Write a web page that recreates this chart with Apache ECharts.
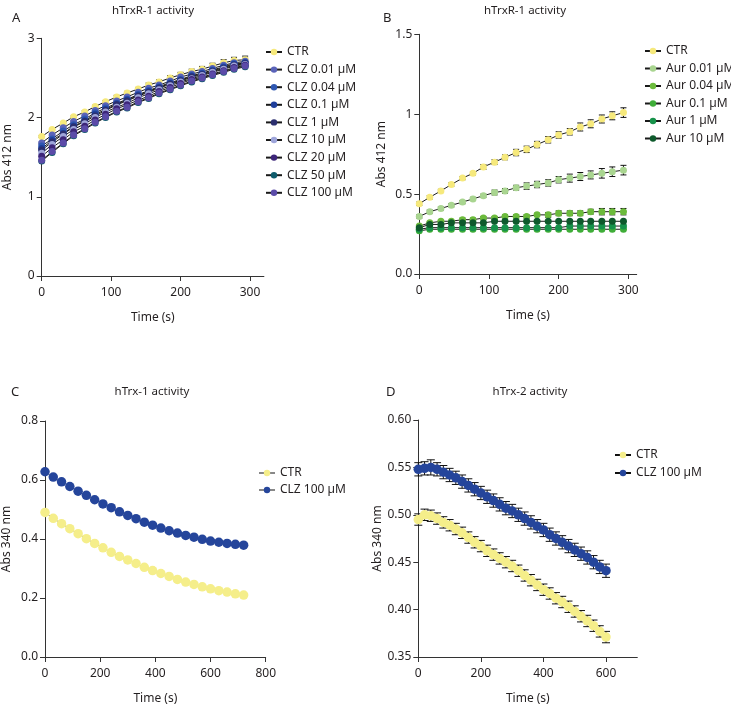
<!DOCTYPE html>
<html><head><meta charset="utf-8">
<script src="https://cdn.jsdelivr.net/npm/echarts@6/dist/echarts.min.js"></script>
<style>html,body{margin:0;padding:0;background:#fff}#c{width:731px;height:706px}</style>
</head><body><div id="c"></div>
<script>
// ---------- DATA ----------
// Panels A & B time points (s)
const tAB = [0,15,31,46,62,77,92,108,123,139,154,169,185,200,216,231,246,262,277,293];
// Panel A: hTrxR-1 + CLZ
const aNames = ['CTR','CLZ 0.01 µM','CLZ 0.04 µM','CLZ 0.1 µM','CLZ 1 µM','CLZ 10 µM','CLZ 20 µM','CLZ 50 µM','CLZ 100 µM'];
const aCTR   = [1.76,1.85,1.93,2.01,2.07,2.14,2.20,2.26,2.31,2.36,2.41,2.45,2.50,2.54,2.58,2.61,2.65,2.69,2.72,2.73];
const aC001  = [1.68,1.78,1.87,1.95,2.02,2.09,2.15,2.21,2.26,2.32,2.37,2.41,2.46,2.51,2.55,2.58,2.62,2.66,2.69,2.71];
const aC004  = [1.64,1.73,1.83,1.91,1.98,2.06,2.12,2.18,2.23,2.29,2.34,2.39,2.44,2.48,2.53,2.56,2.60,2.64,2.68,2.69];
const aC01   = [1.61,1.71,1.80,1.89,1.96,2.04,2.10,2.17,2.22,2.28,2.33,2.38,2.43,2.47,2.52,2.55,2.59,2.63,2.67,2.69];
const aC1    = [1.59,1.69,1.79,1.88,1.95,2.02,2.09,2.16,2.21,2.27,2.32,2.37,2.42,2.46,2.51,2.54,2.58,2.62,2.66,2.68];
const aC10   = [1.55,1.66,1.76,1.85,1.92,2.00,2.07,2.13,2.18,2.25,2.30,2.35,2.40,2.45,2.49,2.53,2.57,2.61,2.65,2.67];
const aC20   = [1.51,1.62,1.72,1.82,1.89,1.97,2.04,2.11,2.16,2.22,2.27,2.33,2.38,2.43,2.48,2.51,2.55,2.59,2.63,2.66];
const aC50   = [1.45,1.56,1.67,1.77,1.85,1.93,2.00,2.07,2.12,2.19,2.24,2.30,2.35,2.40,2.45,2.49,2.53,2.57,2.61,2.64];
const aC100  = [1.46,1.57,1.68,1.78,1.86,1.94,2.01,2.08,2.13,2.20,2.25,2.31,2.36,2.41,2.46,2.50,2.54,2.58,2.62,2.65];
const aErrCTR = [0.01,0.01,0.01,0.01,0.015,0.015,0.015,0.02,0.02,0.02,0.025,0.025,0.03,0.03,0.03,0.035,0.035,0.04,0.04,0.045];
const aErr001 = [0.01,0.01,0.01,0.01,0.01,0.015,0.015,0.015,0.02,0.02,0.02,0.025,0.025,0.025,0.03,0.03,0.03,0.035,0.035,0.04];
// Panel B: hTrxR-1 + Auranofin
const bNames = ['CTR','Aur 0.01 µM','Aur 0.04 µM','Aur 0.1 µM','Aur 1 µM','Aur 10 µM'];
const bCTR  = [0.44,0.48,0.52,0.56,0.60,0.63,0.67,0.70,0.73,0.76,0.78,0.81,0.84,0.87,0.89,0.92,0.94,0.97,0.99,1.01];
const bA001 = [0.36,0.39,0.41,0.43,0.45,0.47,0.49,0.51,0.52,0.54,0.55,0.56,0.57,0.59,0.60,0.61,0.62,0.63,0.64,0.65];
const bA004 = [0.30,0.32,0.33,0.33,0.34,0.34,0.35,0.35,0.36,0.36,0.36,0.37,0.37,0.38,0.38,0.38,0.39,0.39,0.39,0.39];
const bA01  = [0.27,0.28,0.28,0.28,0.28,0.28,0.28,0.28,0.28,0.28,0.28,0.28,0.28,0.28,0.28,0.28,0.28,0.28,0.28,0.28];
const bA1   = [0.28,0.29,0.29,0.29,0.29,0.29,0.29,0.29,0.29,0.29,0.29,0.29,0.29,0.29,0.30,0.30,0.30,0.30,0.30,0.30];
const bA10  = [0.29,0.31,0.31,0.32,0.32,0.32,0.32,0.33,0.33,0.33,0.33,0.33,0.33,0.33,0.33,0.33,0.33,0.33,0.33,0.33];
const bErrCTR  = [0.01,0.01,0.01,0.01,0.01,0.01,0.015,0.015,0.015,0.02,0.02,0.02,0.02,0.02,0.02,0.025,0.025,0.025,0.025,0.03];
const bErrA001 = [0.01,0.01,0.01,0.01,0.01,0.01,0.01,0.015,0.015,0.015,0.02,0.02,0.02,0.02,0.025,0.025,0.025,0.03,0.03,0.03];
const bErrA004 = [0.005,0.005,0.005,0.005,0.01,0.01,0.01,0.01,0.01,0.01,0.01,0.01,0.015,0.015,0.015,0.015,0.015,0.02,0.02,0.02];
const yTicksB = [0, 0.5, 1, 1.5];
const yLabelsB = ['0.0', '0.5', '1', '1.5'];
// Panel C: hTrx-1
const tC = [0,30,60,90,120,150,180,210,240,270,300,330,360,390,420,450,480,510,540,570,600,630,660,690,720];
const cCTR = [0.490,0.470,0.452,0.435,0.418,0.401,0.385,0.370,0.355,0.341,0.329,0.317,0.304,0.293,0.283,0.273,0.263,0.254,0.246,0.238,0.231,0.225,0.220,0.214,0.210];
const cCLZ = [0.628,0.610,0.594,0.578,0.562,0.548,0.533,0.519,0.506,0.492,0.480,0.469,0.457,0.447,0.437,0.428,0.420,0.412,0.406,0.399,0.393,0.389,0.385,0.382,0.379];
// Panel D: hTrx-2
const tD = [0,20,40,60,80,100,120,140,160,180,200,220,240,260,280,300,320,340,360,380,400,420,440,460,480,500,520,540,560,580,600];
const dCTR = [0.495,0.500,0.499,0.496,0.492,0.489,0.485,0.481,0.476,0.471,0.467,0.462,0.458,0.454,0.450,0.446,0.441,0.436,0.431,0.426,0.421,0.417,0.412,0.408,0.403,0.398,0.393,0.388,0.383,0.377,0.371];
const dCLZ = [0.548,0.549,0.550,0.548,0.545,0.542,0.539,0.535,0.531,0.527,0.523,0.519,0.515,0.511,0.507,0.504,0.500,0.496,0.492,0.488,0.484,0.479,0.475,0.471,0.467,0.463,0.459,0.455,0.450,0.445,0.441];
const dErrCTR = [0.006,0.006,0.006,0.006,0.006,0.006,0.006,0.006,0.006,0.006,0.006,0.006,0.006,0.006,0.006,0.006,0.006,0.006,0.006,0.006,0.006,0.006,0.006,0.006,0.006,0.006,0.006,0.006,0.006,0.006,0.006];
const dErrCLZ = [0.007,0.007,0.008,0.007,0.007,0.007,0.007,0.007,0.007,0.007,0.007,0.007,0.007,0.007,0.007,0.007,0.007,0.007,0.007,0.007,0.007,0.007,0.007,0.007,0.007,0.007,0.007,0.007,0.007,0.007,0.007];

// ---------- STYLE ----------
const FONT = 'Noto Sans';
const TXT = '#231f20';
const aColors = ['#f6e97c','#5a63b9','#2f57b1','#1f3f9b','#2b2f6f','#9ea5da','#3d2679','#0e5b6b','#5b4ba8'];
const bColors = ['#f6e97c','#a9d590','#6cbb3c','#3fad38','#16924a','#0e5a2c'];
const cdColors = ['#f5ee8a','#25459b'];

const chart = echarts.init(document.getElementById('c'), null, {renderer:'canvas'});

function pairs(t, v){ return t.map((x,i)=>[x, v[i]]); }
function triples(t, v, e){ return t.map((x,i)=>[x, v[i], e[i]]); }

function xAx(idx, max, ticks){
  return {gridIndex: idx, type:'value', min:0, max:max,
    name:'Time (s)', nameLocation:'middle', nameGap:36,
    nameTextStyle:{fontFamily:FONT,fontSize:12,color:TXT},
    axisLine:{show:true,lineStyle:{color:'#333',width:1}},
    axisTick:{show:true,length:5,lineStyle:{color:'#333'},customValues:ticks},
    axisLabel:{fontFamily:FONT,fontSize:12,color:TXT,margin:11,customValues:ticks},
    splitLine:{show:false}};
}
function yAx(idx, min, max, interval, name, fmt, gap){
  return {gridIndex: idx, type:'value', min:min, max:max, interval:interval,
    name:name, nameLocation:'middle', nameGap:gap, nameRotate:90,
    nameTextStyle:{fontFamily:FONT,fontSize:12,color:TXT},
    axisLine:{show:true,lineStyle:{color:'#333',width:1}},
    axisTick:{show:true,length:5,lineStyle:{color:'#333'}},
    axisLabel:{fontFamily:FONT,fontSize:12,color:TXT,margin:7,formatter:fmt},
    splitLine:{show:false}};
}

function lineSeries(name, key, xi, t, v, color, size, lineColor){
  return {type:'line', name: name + '|' + key, xAxisIndex:xi, yAxisIndex:xi,
    data: pairs(t, v), symbol:'circle', symbolSize:size, showSymbol:true, showAllSymbol:true,
    itemStyle:{color:color, opacity:1}, lineStyle:{color:lineColor, width:1},
    emphasis:{disabled:true}, z:3, animation:false};
}
function errSeries(xi, t, v, e, cap){
  return {type:'custom', xAxisIndex:xi, yAxisIndex:xi, data: triples(t, v, e), z:2, silent:true, animation:false,
    renderItem:function(params, api){
      const x = api.value(0), y = api.value(1), er = api.value(2);
      const top = api.coord([x, y + er]);
      const bot = api.coord([x, y - er]);
      const st = {stroke:'#111', lineWidth:1};
      return {type:'group', children:[
        {type:'line', shape:{x1:top[0],y1:top[1],x2:bot[0],y2:bot[1]}, style:st},
        {type:'line', shape:{x1:top[0]-cap,y1:top[1],x2:top[0]+cap,y2:top[1]}, style:st},
        {type:'line', shape:{x1:bot[0]-cap,y1:bot[1],x2:bot[0]+cap,y2:bot[1]}, style:st}
      ]};
    }};
}

const aVals = [aCTR,aC001,aC004,aC01,aC1,aC10,aC20,aC50,aC100];
const bVals = [bCTR,bA001,bA004,bA01,bA1,bA10];

const series = [];
series.push(errSeries(0, tAB, aCTR, aErrCTR, 3));
series.push(errSeries(0, tAB, aC001, aErr001, 3));
aNames.forEach((n,i)=>series.push(lineSeries(n,'A',0,tAB,aVals[i],aColors[i],7,'#1a1a1a')));
series.push(errSeries(1, tAB, bCTR, bErrCTR, 3));
series.push(errSeries(1, tAB, bA001, bErrA001, 3));
series.push(errSeries(1, tAB, bA004, bErrA004, 3));
bNames.forEach((n,i)=>series.push(lineSeries(n,'B',1,tAB,bVals[i],bColors[i],7,'#1a1a1a')));
series.push(lineSeries('CTR','C',2,tC,cCTR,cdColors[0],9.5,'#888'));
series.push(lineSeries('CLZ 100 µM','C',2,tC,cCLZ,cdColors[1],9.5,'#888'));
series.push(errSeries(3, tD, dCTR, dErrCTR, 4));
series.push(errSeries(3, tD, dCLZ, dErrCLZ, 4));
series.push(lineSeries('CTR','D',3,tD,dCTR,cdColors[0],9.5,'#111'));
series.push(lineSeries('CLZ 100 µM','D',3,tD,dCLZ,cdColors[1],9.5,'#111'));

function legend(names, key, left, top, gap){
  return {orient:'vertical', left:left, top:top, itemGap:gap, itemWidth:16, itemHeight:8,
    data: names.map(n=>n+'|'+key), selectedMode:false,
    formatter: s => s.split('|')[0],
    textStyle:{fontFamily:FONT,fontSize:12,color:TXT}};
}

const titleStyle = {fontFamily:FONT,fontSize:11.5,fontWeight:'normal',color:TXT};
const letterStyle = {fontFamily:FONT,fontSize:13,fontWeight:'normal',color:TXT};

chart.setOption({
  backgroundColor:'#fff',
  animation:false,
  title:[
    {text:'hTrxR-1 activity', left:153, top:5, textAlign:'center', textStyle:titleStyle, padding:0},
    {text:'A', left:12, top:12, textStyle:letterStyle, padding:0},
    {text:'hTrxR-1 activity', left:525, top:5, textAlign:'center', textStyle:titleStyle, padding:0},
    {text:'B', left:383, top:12, textStyle:letterStyle, padding:0},
    {text:'hTrx-1 activity', left:152, top:386, textAlign:'center', textStyle:titleStyle, padding:0},
    {text:'C', left:11, top:386, textStyle:letterStyle, padding:0},
    {text:'hTrx-2 activity', left:530, top:386, textAlign:'center', textStyle:titleStyle, padding:0},
    {text:'D', left:386, top:386, textStyle:letterStyle, padding:0}
  ],
  grid:[
    {left:41.7, top:38.3, width:222.2, height:237.7},
    {left:419.3, top:34.3, width:217.4, height:239.7},
    {left:43.3, top:421, width:222.4, height:236.7},
    {left:418.3, top:420, width:219, height:237.7}
  ],
  xAxis:[
    xAx(0, 320, [0,100,200,300]),
    xAx(1, 312, [0,100,200,300]),
    xAx(2, 800, [0,200,400,600,800]),
    xAx(3, 700, [0,200,400,600])
  ],
  yAxis:[
    yAx(0, 0, 3, 1, 'Abs 412 nm', v=>String(v), 28),
    yAx(1, 0, 1.5, 0.5, 'Abs 412 nm', v=>{const k=yTicksB.indexOf(v);return k>=0?yLabelsB[k]:String(v);}, 32),
    yAx(2, 0, 0.8, 0.2, 'Abs 340 nm', v=>v.toFixed(1), 32),
    yAx(3, 0.35, 0.60, 0.05, 'Abs 340 nm', v=>v.toFixed(2), 35)
  ],
  legend:[
    legend(aNames,'A',260,41,5.6),
    legend(bNames,'B',639,40,5.5),
    legend(['CTR','CLZ 100 µM'],'C',253,462,5),
    legend(['CTR','CLZ 100 µM'],'D',609,444,6)
  ],
  series: series
});
</script>
</body></html>
